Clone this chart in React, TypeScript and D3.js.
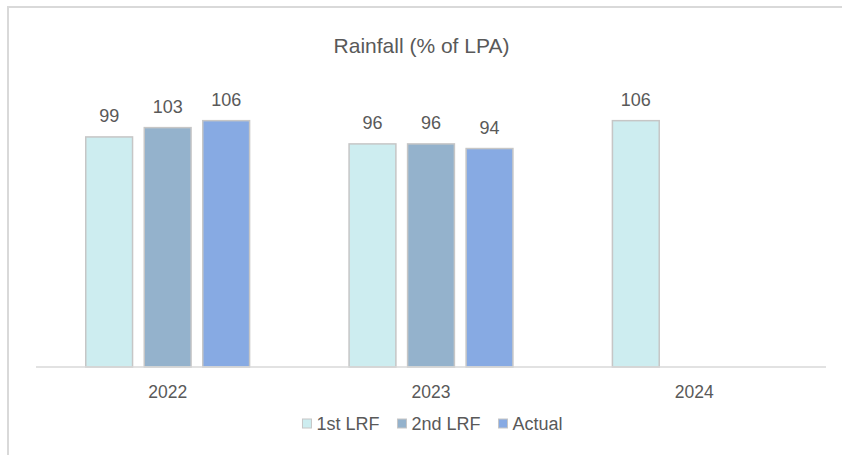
import React from "react";
import * as d3 from "d3";

const categories = ["2022", "2023", "2024"];
const seriesNames = ["1st LRF", "2nd LRF", "Actual"];
const firstLRF: (number | null)[] = [99, 96, 106];
const secondLRF: (number | null)[] = [103, 96, null];
const actual: (number | null)[] = [106, 94, null];
const seriesColors = ["#cdedf0", "#94b2cc", "#87aae3"];
const title = "Rainfall (% of LPA)";

const W = 842;
const H = 455;
const FONT = "'Liberation Sans', Arial, sans-serif";
const TEXT = "#595959";

function measure(text: string, size: number): number {
  if (typeof document === "undefined") return text.length * size * 0.55;
  const c = document.createElement("canvas");
  const ctx = c.getContext("2d");
  if (!ctx) return text.length * size * 0.55;
  ctx.font = `${size}px ${FONT}`;
  return ctx.measureText(text).width;
}

export default function App() {
  const seriesValues = [firstLRF, secondLRF, actual];
  const x0 = d3.scaleBand<string>().domain(categories).range([36, 826]).padding(0);
  const x1 = d3
    .scaleBand<string>()
    .domain(seriesNames)
    .range([0, x0.bandwidth()])
    .paddingInner(0.2)
    .paddingOuter(0.85);
  const y = d3.scaleLinear().domain([0, 120]).range([367, 367 - 120 * 2.324]);

  const legendSize = 18;
  const sq = 9;
  const gapSqText = 5;
  const itemGap = 18;
  const widths = seriesNames.map((n) => measure(n, legendSize));
  const total =
    widths.reduce((a, b) => a + b, 0) + seriesNames.length * (sq + gapSqText) + itemGap * (seriesNames.length - 1);
  let lx = 432.5 - total / 2;
  const legendItems = seriesNames.map((n, i) => {
    const item = { name: n, x: lx, color: seriesColors[i] };
    lx += sq + gapSqText + widths[i] + itemGap;
    return item;
  });

  return (
    <svg
      width={W}
      height={H}
      style={{ position: "absolute", left: 0, top: 0, background: "#fff" }}
      fontFamily={FONT}
    >
      <rect x={8} y={7} width={W + 10} height={H + 10} fill="#fff" stroke="#d9d9d9" strokeWidth={2} />
      <text x={421.5} y={53} textAnchor="middle" fontSize={21} fill={TEXT}>
        {title}
      </text>
      {categories.map((cat, ci) => (
        <g key={cat} transform={`translate(${x0(cat)},0)`}>
          {seriesNames.map((s, si) => {
            const v = seriesValues[si][ci];
            if (v == null) return null;
            const bx = x1(s)!;
            return (
              <g key={s}>
                <rect
                  x={bx}
                  y={y(v)}
                  width={x1.bandwidth()}
                  height={y(0) - y(v)}
                  fill={seriesColors[si]}
                  stroke="#c6c6c6"
                  strokeWidth={1.5}
                />
                <text
                  x={bx + x1.bandwidth() / 2}
                  y={y(v) - 15}
                  textAnchor="middle"
                  fontSize={18}
                  fill={TEXT}
                >
                  {v}
                </text>
              </g>
            );
          })}
          <text x={x0.bandwidth() / 2} y={398} textAnchor="middle" fontSize={17.5} fill={TEXT}>
            {cat}
          </text>
        </g>
      ))}
      <line x1={36} x2={826} y1={y(0)} y2={y(0)} stroke="#d9d9d9" strokeWidth={1.5} />
      {legendItems.map((it) => (
        <g key={it.name}>
          <rect x={it.x} y={419} width={sq} height={sq} fill={it.color} stroke="#c6c6c6" strokeWidth={1} />
          <text x={it.x + sq + gapSqText} y={429.5} fontSize={legendSize} fill={TEXT}>
            {it.name}
          </text>
        </g>
      ))}
    </svg>
  );
}
